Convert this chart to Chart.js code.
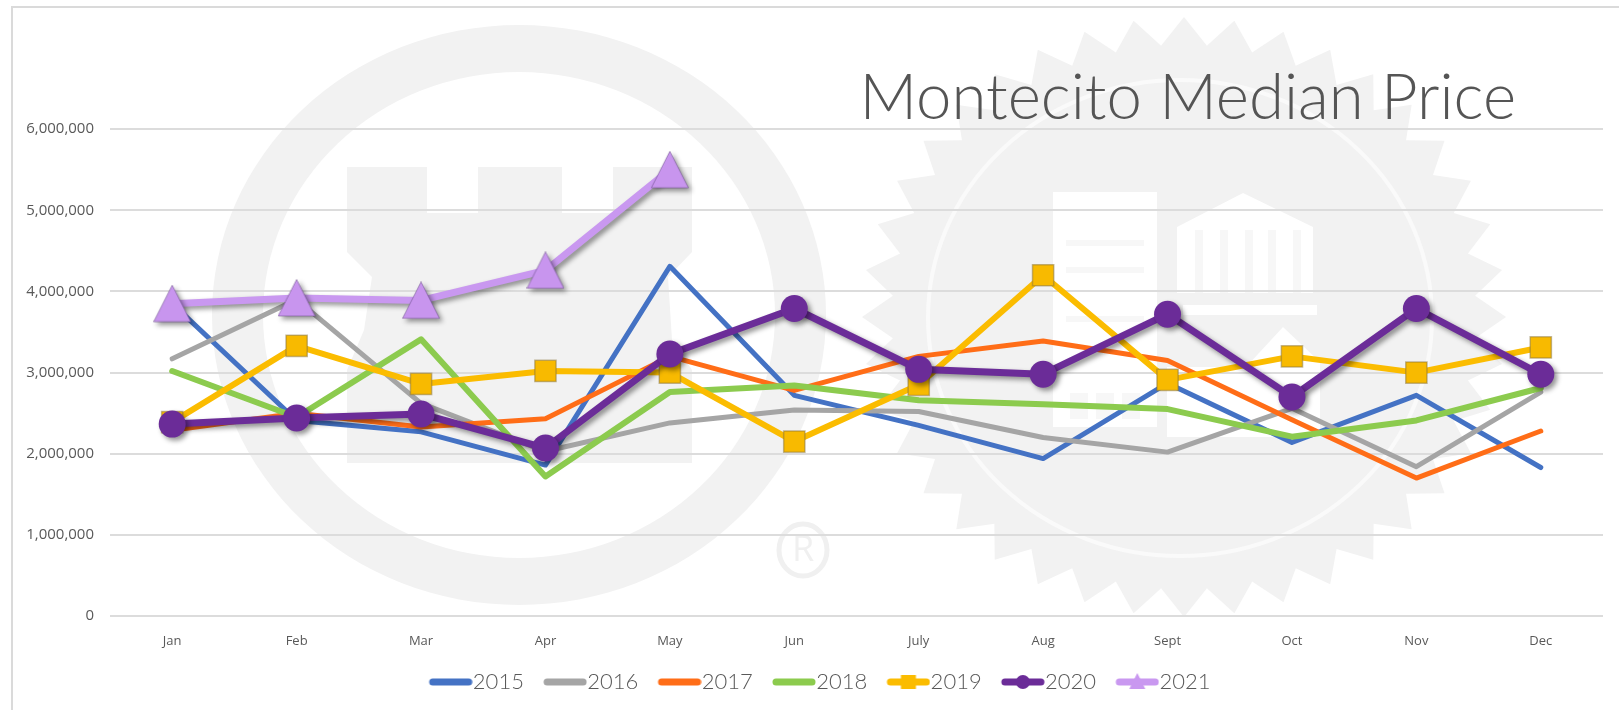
<!DOCTYPE html>
<html>
<head>
<meta charset="utf-8">
<title>Montecito Median Price</title>
<script src="https://cdn.jsdelivr.net/npm/chart.js@4"></script>
<style>
html,body{margin:0;padding:0;background:#fff;}
canvas{display:block;}
</style>
</head>
<body>
<canvas id="c" width="1619" height="710"></canvas>
<script>
const months = ['Jan','Feb','Mar','Apr','May','Jun','July','Aug','Sept','Oct','Nov','Dec'];
const chartTitle = 'Montecito Median Price';
const s2015 = [3850000,2410000,2270000,1860000,4310000,2720000,2350000,1940000,2870000,2140000,2720000,1830000];
const s2016 = [3170000,3900000,2620000,2030000,2380000,2540000,2520000,2200000,2020000,2560000,1840000,2760000];
const s2017 = [2290000,2500000,2330000,2430000,3200000,2780000,3200000,3390000,3150000,2420000,1700000,2280000];
const s2018 = [3020000,2450000,3410000,1720000,2760000,2840000,2660000,2610000,2550000,2210000,2410000,2810000];
const s2019 = [2390000,3330000,2860000,3020000,3000000,2150000,2850000,4200000,2910000,3200000,3000000,3310000];
const s2020 = [2365000,2440000,2490000,2070000,3230000,3790000,3040000,2980000,3720000,2700000,3790000,2980000];
const s2021 = [3850000,3920000,3890000,4260000,5500000,null,null,null,null,null,null,null];

function triangleImage(w,h){
  const c=document.createElement('canvas');c.width=w;c.height=h;
  const x=c.getContext('2d');
  x.beginPath();x.moveTo(w/2,0.5);x.lineTo(w-0.5,h-1);x.lineTo(0.5,h-1);x.closePath();
  x.fillStyle='#C895EE';x.fill();
  x.strokeStyle='rgba(110,80,140,.55)';x.lineWidth=1;x.stroke();
  return c;
}
function legendSample(color,lw,marker){
  const c=document.createElement('canvas');c.width=68;c.height=24;
  const x=c.getContext('2d');const y=12,x0=28,x1=64,mid=46;
  x.strokeStyle=color;x.lineWidth=lw;x.lineCap='round';
  x.beginPath();x.moveTo(x0,y);x.lineTo(x1,y);x.stroke();
  x.fillStyle=color;
  if(marker==='rect')x.fillRect(mid-7.5,y-7,15,14);
  if(marker==='circle'){x.beginPath();x.arc(mid,y,7,0,Math.PI*2);x.fill();}
  if(marker==='triangle'){x.beginPath();x.moveTo(mid,y-9);x.lineTo(mid+8,y+7);x.lineTo(mid-8,y+7);x.closePath();x.fill();}
  return c;
}
const triImg = triangleImage(38,38);

function line(label,data,color,width,order,extra){
  return Object.assign({
    label,data,borderColor:color,backgroundColor:color,borderWidth:width,order,
    tension:0,spanGaps:false,borderCapStyle:'round',borderJoinStyle:'round',
    pointRadius:0,pointHoverRadius:0,clip:false
  },extra||{});
}
const datasets = [
  line('2015',s2015,'#4472C4',5,6),
  line('2016',s2016,'#A5A5A5',5,5),
  line('2017',s2017,'#FF6D17',5,4),
  line('2018',s2018,'#8CCB4E',6,3),
  line('2019',s2019,'#FBBC00',6,2,{pointStyle:'rect',pointRadius:15,pointBackgroundColor:'#F8BA00',pointBorderColor:'rgba(135,115,60,.5)',pointBorderWidth:1.5}),
  line('2020',s2020,'#6B2C98',7,1,{pointStyle:'circle',pointRadius:13.5,pointBackgroundColor:'#6B2C98',pointBorderColor:'#6B2C98',pointBorderWidth:0}),
  line('2021',s2021,'#C998F0',7,0,{pointStyle:triImg,pointRadius:19})
];
const legendMarkers=[null,null,null,null,'rect','circle','triangle'];
const shadowed={5:true,6:true};

function ell(ctx,cx,cy,rx,ry){ctx.ellipse(cx,cy,rx,ry,0,0,Math.PI*2);}
function poly(ctx,pts,fill){ctx.beginPath();pts.forEach((p,i)=>i?ctx.lineTo(p[0],p[1]):ctx.moveTo(p[0],p[1]));ctx.closePath();ctx.fillStyle=fill;ctx.fill();}

const backdrop={
  id:'backdrop',
  beforeDraw(chart){
    const ctx=chart.ctx,g='#F2F2F2',w='#FFFFFF',soft='#F7F7F7';
    ctx.save();
    ctx.fillStyle='#fff';ctx.fillRect(0,0,1619,710);
    ctx.strokeStyle='#DADADA';ctx.lineWidth=2;
    ctx.beginPath();ctx.moveTo(12,710);ctx.lineTo(12,7);ctx.lineTo(1619,7);ctx.stroke();
    ctx.fillStyle=g;ctx.beginPath();ell(ctx,519,315,307,290);ctx.moveTo(775,315);ell(ctx,519,315,256,243);ctx.fill('evenodd');
    poly(ctx,[[347,167],[427,167],[427,213],[478,213],[478,167],[562,167],[562,213],[613,213],[613,167],[692,167],[692,252],[668,277],[672,340],[692,370],[692,463],[347,463],[347,370],[364,330],[372,277],[347,252]],g);
    ctx.strokeStyle='#F0F0F0';ctx.lineWidth=5;ctx.beginPath();ell(ctx,803,550,24,26);ctx.stroke();
    ctx.fillStyle='#F0F0F0';ctx.font='36px "Open Sans"';ctx.textAlign='center';ctx.textBaseline='middle';ctx.fillText('R',803,551);
    const n=40,cx=1184,cy=317;
    ctx.beginPath();
    for(let i=0;i<n*2;i++){
      const a=i*Math.PI/n-Math.PI/2,o=i%2===0;
      const px=cx+(o?322:292)*Math.cos(a),py=cy+(o?300:272)*Math.sin(a);
      i?ctx.lineTo(px,py):ctx.moveTo(px,py);
    }
    ctx.closePath();ctx.fillStyle=g;ctx.fill();
    ctx.strokeStyle='#FAFAFA';ctx.lineWidth=4;ctx.beginPath();ell(ctx,1180,318,252,238);ctx.stroke();
    ctx.fillStyle=w;ctx.fillRect(1053,192,104,235);
    ctx.fillStyle=soft;
    [[1066,240],[1066,267],[1066,316]].forEach(p=>ctx.fillRect(p[0],p[1],78,6));
    [1070,1096,1122].forEach(x=>ctx.fillRect(x,393,18,26));
    poly(ctx,[[1243,193],[1313,227],[1313,293],[1177,293],[1177,227]],w);
    ctx.fillStyle=soft;
    [1195,1220,1245,1268,1293].forEach(x=>ctx.fillRect(x,230,8,63));
    ctx.fillStyle=w;ctx.fillRect(1183,305,134,10);
    poly(ctx,[[1283,327],[1320,362],[1320,437],[1167,437],[1167,367],[1246,367]],w);
    ctx.restore();
  },
  afterLayout(chart){
    if(chart.titleBlock) chart.titleBlock.right=1516;
    if(chart.legend){chart.legend.left+=11.5;chart.legend.right+=11.5;}
  },
  beforeDatasetDraw(chart,args){
    if(shadowed[args.index]){
      const ctx=chart.ctx;ctx.save();
      ctx.shadowColor='rgba(0,0,0,.42)';ctx.shadowBlur=5;ctx.shadowOffsetX=3;ctx.shadowOffsetY=3;
    }
  },
  afterDatasetDraw(chart,args){
    if(shadowed[args.index]) chart.ctx.restore();
  }
};

new Chart(document.getElementById('c'),{
  type:'line',
  data:{labels:months,datasets},
  plugins:[backdrop],
  options:{
    responsive:false,animation:false,
    layout:{autoPadding:false,padding:{left:0,right:16,top:21,bottom:7}},
    interaction:{mode:null},
    scales:{
      x:{
        offset:true,
        grid:{display:false},border:{display:false},
        ticks:{color:'#595959',font:{family:'"Open Sans"',size:13},padding:9,maxRotation:0,autoSkip:false},
        afterFit(s){s.height=49;}
      },
      y:{
        min:0,max:6000000,
        grid:{color:'#DCDCDC',lineWidth:2,drawTicks:false},border:{display:false},
        ticks:{stepSize:1000000,color:'#595959',font:{family:'"Open Sans"',size:15},padding:16,
          callback:v=>Number(v).toLocaleString('en-US')},
        afterFit(s){s.width=110;}
      }
    },
    plugins:{
      tooltip:{enabled:false},
      title:{display:true,text:chartTitle,align:'end',color:'#555555',
        font:{family:'Lato',size:63.5,weight:'300',lineHeight:1.2},padding:{top:39,bottom:-7}},
      legend:{
        position:'bottom',align:'center',
        labels:{
          usePointStyle:true,pointStyleWidth:46.4,boxHeight:22,padding:6,color:'#595959',
          font:{family:'Lato',size:22,weight:'300'},
          generateLabels(chart){
            return chart.data.datasets.map((d,i)=>({
              text:d.label,datasetIndex:i,fontColor:'#595959',lineWidth:0,
              strokeStyle:'transparent',fillStyle:'transparent',
              pointStyle:legendSample(d.borderColor,Math.max(d.borderWidth,7),legendMarkers[i])
            }));
          }
        }
      }
    }
  }
});
</script>
</body>
</html>
